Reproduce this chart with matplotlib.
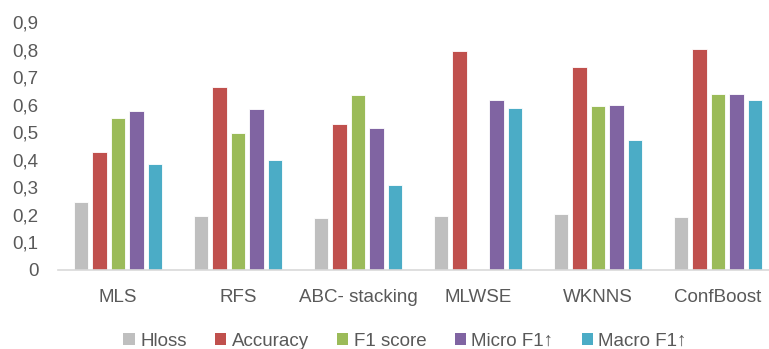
import numpy as np
import matplotlib.pyplot as plt
from matplotlib.patches import Patch

methods = ["MLS", "RFS", "ABC- stacking", "MLWSE", "WKNNS", "ConfBoost"]
series_names = ["Hloss", "Accuracy", "F1 score", "Micro F1\u2191", "Macro F1\u2191"]

hloss = [0.247, 0.196, 0.187, 0.196, 0.205, 0.191]
accuracy = [0.427, 0.664, 0.530, 0.793, 0.738, 0.802]
f1_score = [0.553, 0.497, 0.636, 0.0, 0.594, 0.640]
micro_f1 = [0.576, 0.586, 0.517, 0.618, 0.599, 0.640]
macro_f1 = [0.383, 0.401, 0.307, 0.589, 0.470, 0.618]

yticks = [0, 0.1, 0.2, 0.3, 0.4, 0.5, 0.6, 0.7, 0.8, 0.9]
ytick_labels = ["0", "0,1", "0,2", "0,3", "0,4", "0,5", "0,6", "0,7", "0,8", "0,9"]

colors = ["#BFBFBF", "#C0504D", "#9BBB59", "#8064A2", "#4BACC6"]
text_color = "#595959"

plt.rcParams['font.family'] = ['Liberation Sans', 'DejaVu Sans']

fig = plt.figure(figsize=(7.69, 3.49), dpi=100)
ax = fig.add_axes([58 / 769, 1 - 270 / 349, 720 / 769, 248 / 349])

x = np.arange(len(methods))
step = 0.154
width = 0.122
all_series = [hloss, accuracy, f1_score, micro_f1, macro_f1]
for i, (vals, col) in enumerate(zip(all_series, colors)):
    ax.bar(x + (i - 2) * step, vals, width, color=col, edgecolor="white", linewidth=0.6)

ax.set_xlim(-0.5, 5.5)
ax.set_ylim(0, 0.9)
ax.set_yticks(yticks)
ax.set_yticklabels(ytick_labels, color=text_color, fontsize=13.5)
ax.set_xticks(x)
ax.set_xticklabels(methods, color=text_color, fontsize=13.5)
ax.tick_params(axis='y', length=0, pad=14)
ax.tick_params(axis='x', length=0, pad=14)

for side in ["top", "right", "left"]:
    ax.spines[side].set_visible(False)
ax.spines["bottom"].set_color("#D9D9D9")
ax.spines["bottom"].set_linewidth(1.2)

handles = [Patch(facecolor=c, edgecolor="none") for c in colors]
fig.legend(handles, series_names, loc="center", bbox_to_anchor=(405 / 769, 1 - 341 / 349),
           ncol=5, frameon=False, fontsize=13.5, labelcolor=text_color,
           handlelength=0.6, handleheight=0.6, handletextpad=0.3, columnspacing=1.5,
           borderpad=0, borderaxespad=0)

fig.savefig("out.png", dpi=100)
